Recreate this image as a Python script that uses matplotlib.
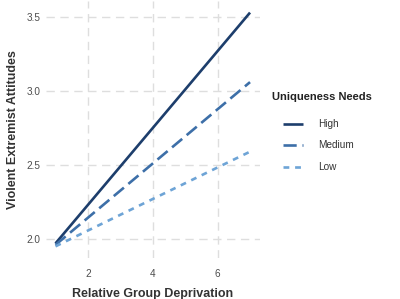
import matplotlib
matplotlib.use("Agg")
import matplotlib.pyplot as plt

plt.rcParams['font.family'] = ['Liberation Sans', 'DejaVu Sans']

# data
x = [1, 7]
high = [1.97, 3.53]
medium = [1.96, 3.06]
low = [1.95, 2.59]
groups = ["High", "Medium", "Low"]
series = [high, medium, low]
colors = ["#1d3e6c", "#3d6fa8", "#6ea4d6"]
styles = ["-", (0, (5, 2.2)), (0, (2.2, 2.2))]

W, H = 400, 299
fig = plt.figure(figsize=(4, 2.99), dpi=100)
ax = fig.add_axes([0.1144, 0.1365, 0.535, 0.861])

for y, lab, c, ls in zip(series, groups, colors, styles):
    ax.plot(x, y, color=c, linestyle=ls, linewidth=1.9, label=lab, solid_capstyle='butt')

ax.set_xlim(0.7, 7.3)
ax.set_ylim(1.87, 3.61)
ax.set_xticks([2, 4, 6])
ax.set_yticks([2.0, 2.5, 3.0, 3.5])
ax.set_yticklabels(["2.0", "2.5", "3.0", "3.5"])
ax.grid(True, color="#dedede", linestyle=(0, (6, 4)), linewidth=1.0)
ax.set_axisbelow(True)
for s in ax.spines.values():
    s.set_visible(False)
ax.tick_params(axis="x", length=0, labelsize=7.2, labelcolor="#4d4d4d", pad=8)
ax.tick_params(axis="y", length=0, labelsize=7.2, labelcolor="#4d4d4d", pad=4)

ax.set_xlabel("Relative Group Deprivation", fontsize=9, fontweight="bold", color="#333333", labelpad=6)
ax.set_ylabel("Violent Extremist Attitudes", fontsize=9, fontweight="bold", color="#333333", labelpad=5)

fig.text(272 / W, 1 - 97 / H, "Uniqueness Needs", fontsize=8, fontweight="bold",
         color="#222222", ha="left", va="center")
leg = fig.legend(loc="upper left", bbox_to_anchor=(283 / W, 1 - 119 / H),
                 frameon=False, fontsize=7.2, handlelength=2.0, labelspacing=1.15,
                 handletextpad=1.5, borderaxespad=0, borderpad=0)
for t in leg.get_texts():
    t.set_color("#333333")

fig.savefig("out.png", dpi=100)
